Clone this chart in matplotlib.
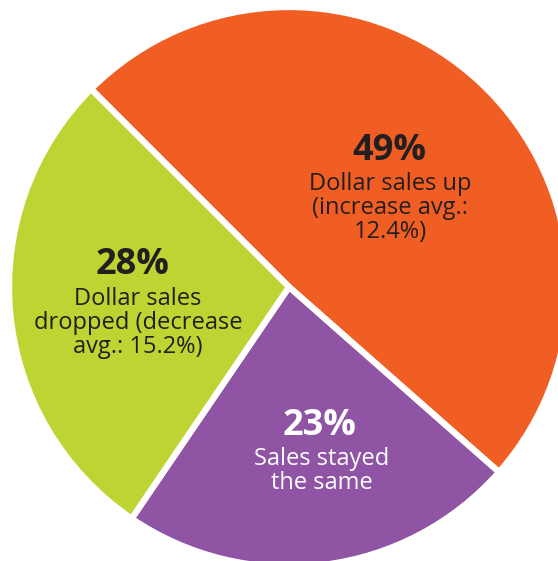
import matplotlib
matplotlib.use('Agg')
from matplotlib import pyplot as plt

plt.rcParams['font.family'] = ['Open Sans', 'DejaVu Sans']

# data (clockwise from upper left)
shares = [49, 23, 28]
pct_labels = ['49%', '23%', '28%']
descriptions = ['Dollar sales up\n(increase avg.:\n12.4%)',
                'Sales stayed\nthe same',
                'Dollar sales\ndropped (decrease\navg.: 15.2%)']
colors = ['#F05E24', '#8F54A3', '#BED432']
text_colors = ['#231F20', 'white', '#231F20']

W, H = 558, 561
CX, CY, R = 289, 287, 280  # pie centre / radius in pixels


def px(x, y):
    # pixel position -> data coords (radius 1 pie at origin)
    return (x - CX) / R, (CY - y) / R


fig = plt.figure(figsize=(W / 100, H / 100), dpi=100)
ax = fig.add_axes([0, 0, 1, 1])
ax.pie(shares, colors=colors, startangle=135, counterclock=False,
       radius=1.0, center=(0, 0),
       wedgeprops=dict(edgecolor='white', linewidth=4.5))
ax.set_xlim(-CX / R, (W - CX) / R)
ax.set_ylim(-(H - CY) / R, CY / R)
ax.set_aspect('auto')
ax.axis('off')

# label anchor points (pixels): percentage, description block centre
pct_pos = [(389, 151), (320, 426), (133, 265)]
desc_pos = [(390, 208), (322, 471), (138, 323)]

for i in range(len(shares)):
    x, y = px(*pct_pos[i])
    ax.text(x, y, pct_labels[i], ha='center', va='center', fontsize=26,
            fontweight='bold', color=text_colors[i])
    x, y = px(*desc_pos[i])
    ax.text(x, y, descriptions[i], ha='center', va='center', fontsize=17,
            linespacing=0.98, color=text_colors[i])

fig.savefig('out.png', dpi=100, facecolor='white')
